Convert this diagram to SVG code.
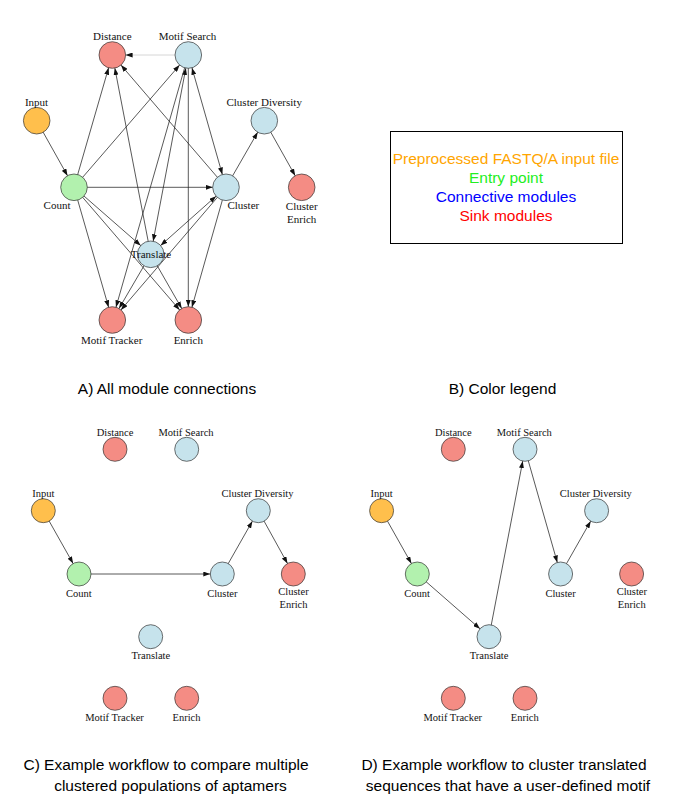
<svg xmlns="http://www.w3.org/2000/svg" width="675" height="796" viewBox="0 0 675 796">
<style>
.n{stroke:#333;stroke-width:0.7}
.red{fill:#F48C84}.blue{fill:#C6E3EC}.green{fill:#B2F1AE}.orange{fill:#FFBF4C}
.la{font-family:"Liberation Serif","Times New Roman",serif;font-size:11px;text-anchor:middle;fill:#111}
.lc{font-family:"Liberation Serif","Times New Roman",serif;font-size:10.5px;text-anchor:middle;fill:#111}
.ea{stroke:#222;stroke-width:0.75;fill:none;marker-end:url(#ahA)}
.ba{marker-start:url(#ahA)}
.lt{stroke:#c8c8c8}
.ec{stroke:#222;stroke-width:0.75;fill:none;marker-end:url(#ahC)}
.cap{font-family:"Liberation Sans",Arial,sans-serif;font-size:15.5px;text-anchor:middle;fill:#000}
.leg{font-family:"Liberation Sans",Arial,sans-serif;font-size:15.5px;text-anchor:middle}
</style>
<defs>
<marker id="ahA" markerUnits="userSpaceOnUse" markerWidth="7" markerHeight="5" refX="20.3" refY="2.5" orient="auto-start-reverse"><path d="M0,0 L7,2.5 L0,5 z" fill="#111"/></marker>
<marker id="ahC" markerUnits="userSpaceOnUse" markerWidth="7" markerHeight="5" refX="19" refY="2.5" orient="auto-start-reverse"><path d="M0,0 L7,2.5 L0,5 z" fill="#111"/></marker>
</defs>
<rect width="675" height="796" fill="#fff"/>

<!-- Panel A connectors -->
<g id="connectors-a">
<line class="ea lt" x1="188.3" y1="55" x2="112.3" y2="55"/>
<line class="ea" x1="36.7" y1="120.7" x2="74" y2="187.3"/>
<line class="ea" x1="74" y1="187.3" x2="112.3" y2="55"/>
<line class="ea" x1="74" y1="187.3" x2="188.3" y2="55"/>
<line class="ea" x1="74" y1="187.3" x2="226" y2="187.3"/>
<line class="ea" x1="74" y1="187.3" x2="150.7" y2="254.3"/>
<line class="ea" x1="74" y1="187.3" x2="112.3" y2="320"/>
<line class="ea" x1="74" y1="187.3" x2="188.3" y2="320"/>
<line class="ea" x1="226" y1="187.3" x2="112.3" y2="55"/>
<line class="ea ba" x1="188.3" y1="55" x2="226" y2="187.3"/>
<line class="ea" x1="226" y1="187.3" x2="264.3" y2="120.7"/>
<line class="ea" x1="264.3" y1="120.7" x2="301.7" y2="187.3"/>
<line class="ea ba" x1="226" y1="187.3" x2="150.7" y2="254.3"/>
<line class="ea" x1="226" y1="187.3" x2="112.3" y2="320"/>
<line class="ea" x1="226" y1="187.3" x2="188.3" y2="320"/>
<line class="ea ba" x1="188.3" y1="55" x2="150.7" y2="254.3"/>
<line class="ea" x1="188.3" y1="55" x2="112.3" y2="320"/>
<line class="ea" x1="188.3" y1="55" x2="188.3" y2="320"/>
<line class="ea" x1="150.7" y1="254.3" x2="112.3" y2="55"/>
<line class="ea" x1="150.7" y1="254.3" x2="112.3" y2="320"/>
<line class="ea" x1="150.7" y1="254.3" x2="188.3" y2="320"/>
</g>

<!-- Panel A nodes -->
<g id="a-distance"><circle class="n red" cx="112.3" cy="55" r="13.3"/><text class="la" x="112.3" y="40">Distance</text></g>
<g id="a-motif-search"><circle class="n blue" cx="188.3" cy="55" r="13.3"/><text class="la" x="187.5" y="40">Motif Search</text></g>
<g id="a-input"><circle class="n orange" cx="36.7" cy="120.7" r="13.3"/><text class="la" x="36.5" y="105.5">Input</text></g>
<g id="a-cluster-diversity"><circle class="n blue" cx="264.3" cy="120.7" r="13.3"/><text class="la" x="264.2" y="105.5">Cluster Diversity</text></g>
<g id="a-count"><circle class="n green" cx="74" cy="187.3" r="13.3"/><text class="la" x="57" y="209">Count</text></g>
<g id="a-cluster"><circle class="n blue" cx="226" cy="187.3" r="13.3"/><text class="la" x="243.3" y="209">Cluster</text></g>
<g id="a-cluster-enrich"><circle class="n red" cx="301.7" cy="187.3" r="13.3"/><text class="la" x="301.7" y="209.5">Cluster</text><text class="la" x="301.7" y="223">Enrich</text></g>
<g id="a-translate"><circle class="n blue" cx="150.7" cy="254.3" r="13.3"/><text class="la" x="151" y="258.3">Translate</text></g>
<g id="a-motif-tracker"><circle class="n red" cx="112.3" cy="320" r="13.3"/><text class="la" x="111.7" y="344">Motif Tracker</text></g>
<g id="a-enrich"><circle class="n red" cx="188.3" cy="320" r="13.3"/><text class="la" x="188.3" y="344">Enrich</text></g>

<!-- Panel B legend -->
<g id="legend">
<rect x="390.5" y="131.5" width="232" height="112" fill="none" stroke="#000" stroke-width="1"/>
<text class="leg" x="506" y="164" fill="#FFA500">Preprocessed FASTQ/A input file</text>
<text class="leg" x="506" y="183" fill="#22EE22">Entry point</text>
<text class="leg" x="506" y="202" fill="#0000FF">Connective modules</text>
<text class="leg" x="506" y="221" fill="#FF0000">Sink modules</text>
</g>

<!-- Panel C connectors -->
<g id="connectors-c">
<line class="ec" x1="43.3" y1="510.7" x2="79" y2="574"/>
<line class="ec" x1="79" y1="574" x2="222.3" y2="574"/>
<line class="ec" x1="222.3" y1="574" x2="258.3" y2="510.7"/>
<line class="ec" x1="258.3" y1="510.7" x2="293.3" y2="574"/>
</g>

<!-- Panel C nodes -->
<g id="c-distance"><circle class="n red" cx="115" cy="449.3" r="12"/><text class="lc" x="115" y="436">Distance</text></g>
<g id="c-motif-search"><circle class="n blue" cx="186.7" cy="449.3" r="12"/><text class="lc" x="186" y="436">Motif Search</text></g>
<g id="c-input"><circle class="n orange" cx="43.3" cy="510.7" r="12"/><text class="lc" x="43.3" y="496.5">Input</text></g>
<g id="c-cluster-diversity"><circle class="n blue" cx="258.3" cy="510.7" r="12"/><text class="lc" x="257.5" y="497">Cluster Diversity</text></g>
<g id="c-count"><circle class="n green" cx="79" cy="574" r="12"/><text class="lc" x="78.8" y="597">Count</text></g>
<g id="c-cluster"><circle class="n blue" cx="222.3" cy="574" r="12"/><text class="lc" x="222.3" y="597">Cluster</text></g>
<g id="c-cluster-enrich"><circle class="n red" cx="293.3" cy="574" r="12"/><text class="lc" x="293.5" y="595">Cluster</text><text class="lc" x="293.5" y="607.5">Enrich</text></g>
<g id="c-translate"><circle class="n blue" cx="150.7" cy="636.7" r="12"/><text class="lc" x="150.8" y="659">Translate</text></g>
<g id="c-motif-tracker"><circle class="n red" cx="115" cy="698.3" r="12"/><text class="lc" x="114.5" y="721">Motif Tracker</text></g>
<g id="c-enrich"><circle class="n red" cx="186.7" cy="698.3" r="12"/><text class="lc" x="186.5" y="721">Enrich</text></g>

<!-- Panel D connectors -->
<g id="connectors-d">
<line class="ec" x1="381.6" y1="510.7" x2="417.3" y2="574"/>
<line class="ec" x1="417.3" y1="574" x2="489" y2="636.7"/>
<line class="ec" x1="489" y1="636.7" x2="525" y2="449.3"/>
<line class="ec" x1="525" y1="449.3" x2="560.6" y2="574"/>
<line class="ec" x1="560.6" y1="574" x2="596.6" y2="510.7"/>
</g>

<!-- Panel D nodes -->
<g id="d-distance"><circle class="n red" cx="453.3" cy="449.3" r="12"/><text class="lc" x="453.3" y="436">Distance</text></g>
<g id="d-motif-search"><circle class="n blue" cx="525" cy="449.3" r="12"/><text class="lc" x="524.3" y="436">Motif Search</text></g>
<g id="d-input"><circle class="n orange" cx="381.6" cy="510.7" r="12"/><text class="lc" x="381.6" y="496.5">Input</text></g>
<g id="d-cluster-diversity"><circle class="n blue" cx="596.6" cy="510.7" r="12"/><text class="lc" x="595.8" y="497">Cluster Diversity</text></g>
<g id="d-count"><circle class="n green" cx="417.3" cy="574" r="12"/><text class="lc" x="417.1" y="597">Count</text></g>
<g id="d-cluster"><circle class="n blue" cx="560.6" cy="574" r="12"/><text class="lc" x="560.6" y="597">Cluster</text></g>
<g id="d-cluster-enrich"><circle class="n red" cx="631.6" cy="574" r="12"/><text class="lc" x="631.8" y="595">Cluster</text><text class="lc" x="631.8" y="607.5">Enrich</text></g>
<g id="d-translate"><circle class="n blue" cx="489" cy="636.7" r="12"/><text class="lc" x="489.1" y="659">Translate</text></g>
<g id="d-motif-tracker"><circle class="n red" cx="453.3" cy="698.3" r="12"/><text class="lc" x="452.8" y="721">Motif Tracker</text></g>
<g id="d-enrich"><circle class="n red" cx="525" cy="698.3" r="12"/><text class="lc" x="524.8" y="721">Enrich</text></g>

<!-- Captions -->
<g id="captions">
<text class="cap" x="167" y="393.5">A) All module connections</text>
<text class="cap" x="502.5" y="393.5">B) Color legend</text>
<text class="cap" x="166" y="770">C) Example workflow to compare multiple</text>
<text class="cap" x="170.5" y="791">clustered populations of aptamers</text>
<text class="cap" x="504" y="770">D) Example workflow to cluster translated</text>
<text class="cap" x="508" y="791">sequences that have a user-defined motif</text>
</g>
</svg>
